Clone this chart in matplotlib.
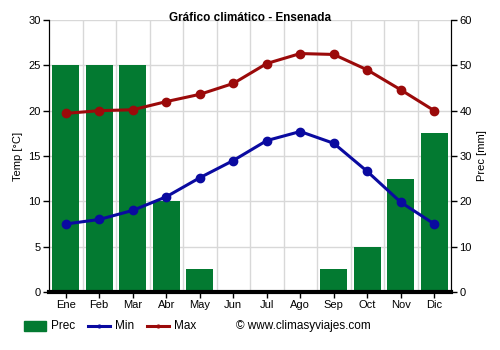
import matplotlib
matplotlib.use("Agg")
import matplotlib.pyplot as plt
import numpy as np
from matplotlib.patches import Rectangle
from matplotlib.lines import Line2D

months = ["Ene", "Feb", "Mar", "Abr", "May", "Jun", "Jul", "Ago", "Sep", "Oct", "Nov", "Dic"]
prec = [50, 50, 50, 20, 5, 0, 0, 0, 5, 10, 25, 35]
t_min = [7.5, 8.0, 9.0, 10.5, 12.6, 14.5, 16.7, 17.7, 16.4, 13.3, 9.9, 7.5]
t_max = [19.7, 20.0, 20.1, 21.0, 21.8, 23.0, 25.2, 26.3, 26.2, 24.5, 22.3, 20.0]

plt.rcParams["font.family"] = ["Liberation Sans", "DejaVu Sans"]
plt.rcParams["font.size"] = 8

GREEN = "#037a31"
BLUE = "#0a0aa0"
RED = "#9b0a0a"

W, H = 500, 350
fig = plt.figure(figsize=(5, 3.5), dpi=100)
ax = fig.add_axes([49 / W, 58 / H, 402 / W, 272 / H])
ax2 = ax.twinx()

x = np.arange(len(months))

# precipitation bars on the right axis
ax2.bar(x, prec, width=0.8, color=GREEN, zorder=2)
ax2.set_ylim(0, 60)
ax2.set_yticks(range(0, 61, 10))
ax2.set_ylabel("Prec [mm]")

# temperatures drawn on top
ax.set_zorder(ax2.get_zorder() + 1)
ax.patch.set_visible(False)
ax.plot(x, t_min, color=BLUE, lw=2.2, marker="o", ms=6, zorder=4)
ax.plot(x, t_max, color=RED, lw=2.2, marker="o", ms=6, zorder=4)
ax.set_ylim(0, 30)
ax.set_xlim(-0.5, 11.5)
ax.set_yticks(range(0, 31, 5))
ax.set_ylabel("Temp [°C]")
ax.set_xticks(x)
ax.set_xticklabels(months)

# grid: horizontal at temperature ticks, vertical at month boundaries
for v in range(5, 31, 5):
    ax2.axhline(v * 2, color="#d8d8d8", lw=1, zorder=0)
for b in np.arange(0.5, 11.5, 1):
    ax2.axvline(b, color="#d8d8d8", lw=1, zorder=0)

for a in (ax, ax2):
    a.spines["top"].set_visible(False)
    a.tick_params(length=4, width=1, direction="out", pad=2)
ax.spines["bottom"].set_linewidth(3)
ax2.spines["bottom"].set_visible(False)

fig.text(0.5, 1 - 18 / H, "Gráfico climático - Ensenada", fontsize=8.5,
         fontweight="bold", ha="center", va="center")

# legend row along the bottom
ly = 1 - 326 / H
fig.add_artist(Rectangle((24 / W, ly - 5 / H), 22 / W, 10 / H,
                         color=GREEN, transform=fig.transFigure))
fig.text(51 / W, ly, "Prec", fontsize=8.5, va="center")
for x0, col, lab in [(88, BLUE, "Min"), (147, RED, "Max")]:
    fig.add_artist(Line2D([x0 / W, (x0 + 22) / W], [ly, ly], color=col, lw=2.2,
                          transform=fig.transFigure))
    fig.add_artist(Line2D([(x0 + 11) / W], [ly], color=col, marker="o", ms=2,
                          transform=fig.transFigure))
    fig.text((x0 + 27) / W, ly, lab, fontsize=8.5, va="center")
fig.text(236 / W, ly, "© www.climasyviajes.com", fontsize=8.5, va="center")

fig.savefig("out.png", dpi=100)
